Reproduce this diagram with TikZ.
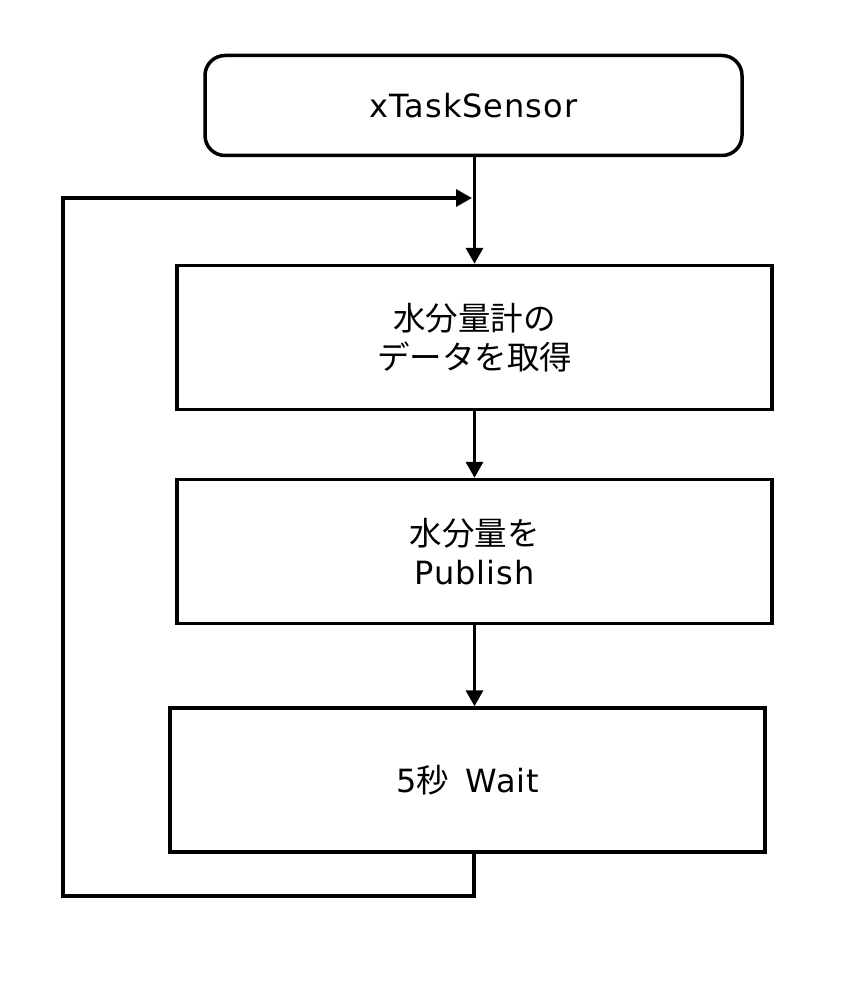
\documentclass[tikz,border=0pt]{standalone}
\usepackage{fontspec}
\setmainfont[LetterSpace=3]{DejaVu Sans}
\newfontfamily\jpfamily{Noto Sans CJK JP}
\newcommand{\jtext}[1]{{\jpfamily\fontsize{32.5}{40}\selectfont #1}}
\usetikzlibrary{arrows.meta}
\begin{document}
\begin{tikzpicture}[x=1pt,y=-1pt,
  every node/.style={font=\fontsize{32}{39}\selectfont, align=center, inner sep=0pt},
  stepbox/.style={draw, line width=3.5pt, minimum width=595pt, minimum height=144pt},
  startbox/.style={draw, line width=3.5pt, rounded corners=20pt, minimum width=537pt, minimum height=100pt},
  conn/.style={line width=3.5pt, -{Triangle[length=16pt,width=17pt]}}]
\useasboundingbox (0,0) rectangle (851,1000);
\node[startbox] (start) at (473.5,105.5) {xTaskSensor};
\node[stepbox] (get) at (474.5,337.5) {\jtext{水分量計の}\\\jtext{データを取得}};
\node[stepbox] (pub) at (474.5,551.5) {\jtext{水分量を}\\Publish};
\node[stepbox] (wait) at (467.5,780) {5\jtext{秒}\, Wait};
\coordinate (c1) at (474,896);
\coordinate (c2) at (63,896);
\coordinate (c3) at (63,198);
\coordinate (c4) at (472,198);
\draw[conn] (start.south -| get.north) -- (get.north);
\draw[conn] (get.south) -- (pub.north);
\draw[conn] (pub.south) -- (pub.south |- wait.north);
\draw[conn, line join=miter] (wait.south -| c1) -- (c1) -- (c2) -- (c3) -- (c4);
\end{tikzpicture}
\end{document}
